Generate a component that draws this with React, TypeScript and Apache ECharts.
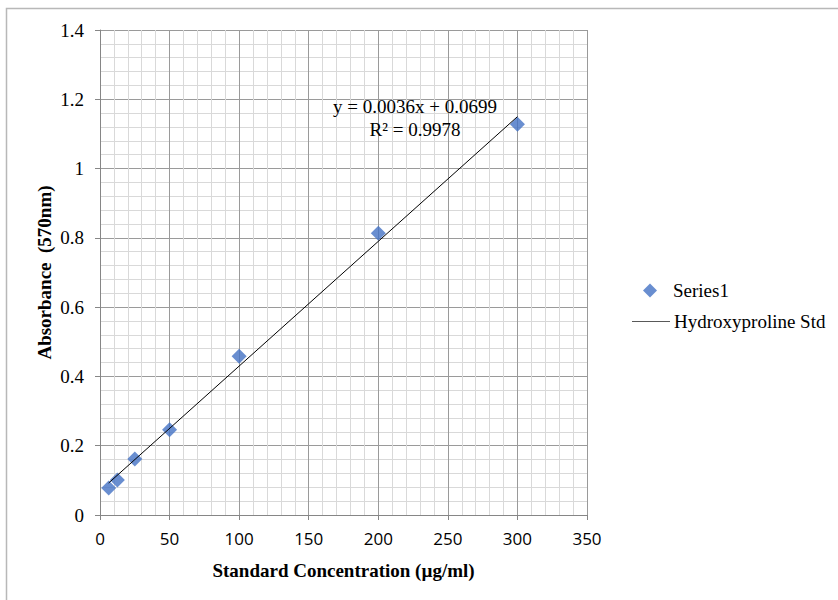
import React, { useEffect, useRef } from "react";
import * as echarts from "echarts";

const concentrations = [6.25, 12.5, 25, 50, 100, 200, 300];
const absorbances = [0.078, 0.101, 0.162, 0.246, 0.458, 0.813, 1.128];
const trendX = [6.25, 300];
const trendY = [0.0924, 1.1499];
const equationText = "y = 0.0036x + 0.0699";
const r2Text = "R² = 0.9978";
const xTitle = "Standard Concentration (µg/ml)";
const yTitle = "Absorbance  (570nm)";
const seriesName = "Series1";
const trendName = "Hydroxyproline Std";

export default function App() {
  const ref = useRef<HTMLDivElement>(null);
  useEffect(() => {
    if (!ref.current) return;
    const chart = echarts.init(ref.current, null, { renderer: "svg" });
    const serif = "Liberation Serif";
    const option: any = {
      animation: false,
      backgroundColor: "#ffffff",
      grid: { left: 100, right: 251, top: 30, bottom: 85, containLabel: false },
      xAxis: {
        type: "value",
        min: 0,
        max: 350,
        interval: 50,
        name: xTitle,
        nameLocation: "middle",
        nameGap: 46,
        nameMoveOverlap: false,
        nameTextStyle: { fontFamily: serif, fontWeight: "bold", fontSize: 19, color: "#000" },
        axisLine: { show: true, lineStyle: { color: "#868686", width: 1 } },
        axisTick: { show: true, length: 5, lineStyle: { color: "#868686" } },
        axisLabel: { fontFamily: "Open Sans", fontSize: 17, color: "#000", margin: 15 },
        splitLine: { show: true, lineStyle: { color: "#9a9a9a", width: 1 } },
        minorTick: { show: false, splitNumber: 5 },
        minorSplitLine: { show: true, lineStyle: { color: "#d9d9d9", width: 1 } },
      },
      yAxis: {
        type: "value",
        min: 0,
        max: 1.4,
        interval: 0.2,
        name: yTitle,
        nameLocation: "middle",
        nameGap: 46,
        nameMoveOverlap: false,
        nameRotate: 90,
        nameTextStyle: { fontFamily: serif, fontWeight: "bold", fontSize: 19, color: "#000" },
        axisLine: { show: true, lineStyle: { color: "#868686", width: 1 } },
        axisTick: { show: true, length: 5, lineStyle: { color: "#868686" } },
        axisLabel: {
          fontFamily: serif,
          fontSize: 19,
          color: "#000",
          margin: 16,
          formatter: (v: number) => String(Math.round(v * 10) / 10),
        },
        splitLine: { show: true, lineStyle: { color: "#9a9a9a", width: 1 } },
        minorTick: { show: false, splitNumber: 5 },
        minorSplitLine: { show: true, lineStyle: { color: "#d9d9d9", width: 1 } },
      },
      legend: [
        {
          orient: "vertical",
          left: 643,
          top: 281,
          padding: 0,
          itemWidth: 14,
          itemHeight: 14,
          textStyle: { fontFamily: serif, fontSize: 19, color: "#000", padding: [0, 0, 0, 11] },
          data: [{ name: seriesName, icon: "diamond" }],
        },
        {
          orient: "vertical",
          left: 632,
          top: 312,
          padding: 0,
          itemWidth: 38,
          itemHeight: 1,
          textStyle: { fontFamily: serif, fontSize: 19, color: "#000", padding: [0, 0, 0, -1] },
          data: [
            {
              name: trendName,
              icon: "rect",
              itemStyle: { color: "#595959", borderWidth: 0 },
            },
          ],
        },
      ],
      series: [
        {
          name: trendName,
          type: "line",
          data: trendX.map((x, i) => [x, trendY[i]]),
          symbol: "none",
          lineStyle: { color: "#000", width: 1 },
          itemStyle: { color: "#000" },
          z: 3,
        },
        {
          name: seriesName,
          type: "scatter",
          data: concentrations.map((x, i) => [x, absorbances[i]]),
          symbol: "diamond",
          symbolSize: 15,
          itemStyle: { color: "#4472c4" },
          z: 2,
        },
      ],
      graphic: [
        {
          type: "rect",
          shape: { x: 6.5, y: 8.5, width: 900, height: 700 },
          style: { fill: "none", stroke: "#b8b8b8", lineWidth: 1.5 },
          silent: true,
        },
        {
          type: "text",
          x: 415,
          y: 106,
          z: 10,
          style: {
            text: equationText,
            fontFamily: serif,
            fontSize: 19,
            fill: "#000",
            align: "center",
            verticalAlign: "middle",
          },
        },
        {
          type: "text",
          x: 415,
          y: 129,
          z: 10,
          style: {
            text: r2Text,
            fontFamily: serif,
            fontSize: 19,
            fill: "#000",
            align: "center",
            verticalAlign: "middle",
          },
        },
      ],
    };
    chart.setOption(option);
    return () => chart.dispose();
  }, []);
  return (
    <div
      ref={ref}
      style={{ position: "fixed", left: 0, top: 0, width: 838, height: 600 }}
    />
  );
}
